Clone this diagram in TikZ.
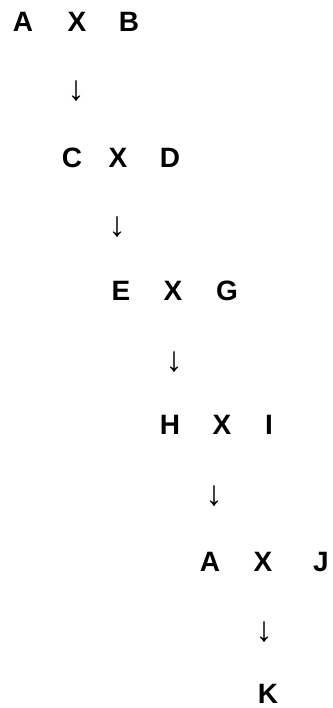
\documentclass[tikz,border=0pt]{standalone}
\usepackage{fontspec}
\setmainfont{Liberation Sans}
\begin{document}
\begin{tikzpicture}[x=1pt,y=-1pt,
  lab/.style={font=\fontsize{28}{30}\selectfont\bfseries, inner sep=0pt},
  darr/.style={font=\fontsize{35}{37}\selectfont, inner sep=0pt}]
\useasboundingbox (0,0) rectangle (332,708);
% row 1
\node[lab] (a1) at (23,22) {A};
\node[lab] (x1) at (77,22) {X};
\node[lab] (b1) at (129,22) {B};
\node[darr] (d1) at (76,91.5) {↓};
% row 2
\node[lab] (c2) at (72,158) {C};
\node[lab] (x2) at (118,158) {X};
\node[lab] (d2) at (170,158) {D};
\node[darr] (r2) at (117,227) {↓};
% row 3
\node[lab] (e3) at (121,291) {E};
\node[lab] (x3) at (173,291) {X};
\node[lab] (g3) at (227,291) {G};
\node[darr] (r3) at (174,362) {↓};
% row 4
\node[lab] (h4) at (170,425) {H};
\node[lab] (x4) at (222,425) {X};
\node[lab] (i4) at (269,425) {I};
\node[darr] (r4) at (214,496) {↓};
% row 5
\node[lab] (a5) at (210,562) {A};
\node[lab] (x5) at (263,562) {X};
\node[lab] (j5) at (321,562) {J};
\node[darr] (r5) at (264,632) {↓};
% row 6
\node[lab] (k6) at (268,694) {K};
\end{tikzpicture}
\end{document}
